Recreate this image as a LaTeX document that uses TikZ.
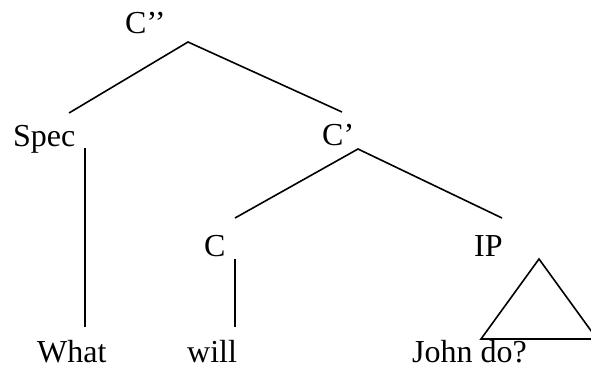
\documentclass[tikz,border=0pt]{standalone}
\usepackage{fontspec}
\setmainfont{Liberation Serif}
\begin{document}
\begin{tikzpicture}[x=1pt,y=-1pt,
  lbl/.style={anchor=base west,inner sep=0pt,text depth=0pt,font=\fontsize{32}{38}\selectfont},
  edge/.style={line width=1.6pt,line cap=butt}]
\useasboundingbox (0,0) rectangle (591,369);
\clip (0,0) rectangle (591,369);
% labels
\node[lbl] (cpp) at (125,34) {C’’};
\node[lbl] (spec) at (13,146) {Spec};
\node[lbl] (cp) at (322,145) {C’};
\node[lbl] (c) at (204,256) {C};
\node[lbl] (ip) at (474,256) {IP};
\node[lbl] (what) at (37,362) {What};
\node[lbl] (will) at (187,362) {will};
\node[lbl] (john) at (412,362) {John do?};
% junction points
\coordinate (cppTop) at (188,42);
\coordinate (specUp) at (69,113);
\coordinate (cpUp) at (342,112);
\coordinate (cpTop) at (358,149);
\coordinate (cUp) at (235,218);
\coordinate (ipUp) at (502,218);
\coordinate (specDown) at (85,148);
\coordinate (whatUp) at (85,327);
\coordinate (cDown) at (235,259);
\coordinate (willUp) at (235,327);
\coordinate (triTop) at (539,259);
\coordinate (triL) at (481,339);
\coordinate (triR) at (597,339);
% branches
\draw[edge] (specUp) -- (cppTop) -- (cpUp);
\draw[edge] (cUp) -- (cpTop) -- (ipUp);
\draw[edge] (specDown) -- (whatUp);
\draw[edge] (cDown) -- (willUp);
\draw[edge,line join=miter] (triL) -- (triTop) -- (triR) -- cycle;
\end{tikzpicture}
\end{document}
